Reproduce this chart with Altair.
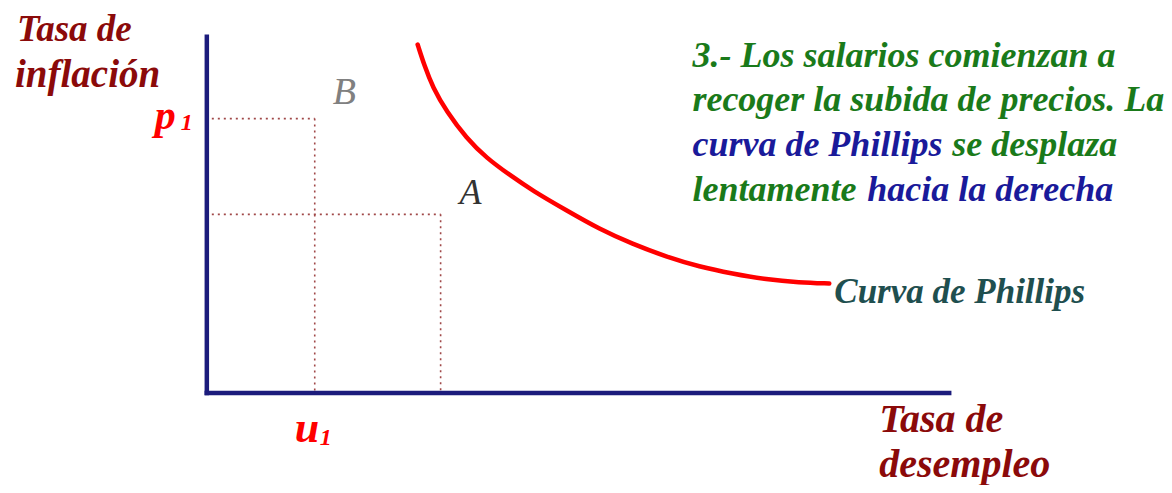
import altair as alt
import pandas as pd

# ---- data (units relative to the axis origin) ----
axis_x_end = 743
axis_y_end = 361

curve_u = [211, 218, 226, 240, 260, 280, 303, 326, 360, 393, 426, 460, 493, 526, 560, 593, 623]
curve_p = [353, 331, 310, 285, 258, 238, 221, 205, 185, 166, 151, 138, 128, 121, 115, 112, 111]

u1, p1 = 108, 278      # point B
uA, pA = 234, 181      # point A

# text items: label, x, y (baseline), colour, size
bold_texts = [
    ("Tasa de", -190, 357, "#8b0a0a", 37),
    ("inflación", -192, 310, "#8b0a0a", 39),
    ("p", -52, 267, "#ff0000", 42),
    ("1", -26, 266, "#ff0000", 24),
    ("u", 88, -50, "#ff0000", 44),
    ("1", 113, -53, "#ff0000", 24),
    ("Tasa de", 673, -39, "#8b0a0a", 40),
    ("desempleo", 673, -85, "#8b0a0a", 40),
    ("Curva de Phillips", 628, 91, "#1f4f4f", 35),
    ("3.- Los salarios comienzan a", 486, 330, "#1a7a1a", 36),
    ("recoger la subida de precios. La", 486, 286, "#1a7a1a", 36),
    ("curva de Phillips", 486, 240, "#1a1a9a", 36),
    ("se desplaza", 746, 240, "#1a7a1a", 36),
    ("lentamente", 486, 195, "#1a7a1a", 36),
    ("hacia la derecha", 661, 195, "#1a1a9a", 36),
]
plain_texts = [
    ("B", 126, 293, "#808080", 38),
    ("A", 253, 192, "#333333", 36),
]

X_DOM = [-199, 957]
Y_DOM = [-87, 390]
xs = alt.Scale(domain=X_DOM, nice=False, zero=False)
ys = alt.Scale(domain=Y_DOM, nice=False, zero=False)

def X(f="x"):
    return alt.X(f"{f}:Q", scale=xs, axis=None)

def Y(f="y"):
    return alt.Y(f"{f}:Q", scale=ys, axis=None)

# dotted guide lines
guides = pd.DataFrame({
    "x": [5, u1, 5, uA],
    "x2": [u1, u1, uA, uA],
    "y": [p1, p1, pA, pA],
    "y2": [p1, 0, pA, 0],
})
guide_layer = alt.Chart(guides).mark_rule(
    color="#a04848", strokeWidth=1.6, strokeDash=[2, 4]
).encode(x=X(), x2="x2:Q", y=Y(), y2="y2:Q")

# axes
axes = pd.DataFrame({"x": [0, 0], "x2": [0, axis_x_end], "y": [0, 0], "y2": [axis_y_end, 0]})
axis_layer = alt.Chart(axes).mark_rule(
    color="#1c1c7c", strokeWidth=4.5, strokeCap="square"
).encode(x=X(), x2="x2:Q", y=Y(), y2="y2:Q")

# Phillips curve
curve = pd.DataFrame({"x": curve_u, "y": curve_p, "i": list(range(len(curve_u)))})
curve_layer = alt.Chart(curve).mark_line(
    color="#ff0000", strokeWidth=4.5, interpolate="basis", strokeCap="round"
).encode(x=X(), y=Y(), order="i:Q")

def text_df(items):
    return pd.DataFrame(items, columns=["t", "x", "y", "c", "s"])

FONT = "Liberation Serif"

bold_layer = alt.Chart(text_df(bold_texts)).mark_text(
    font=FONT, fontStyle="italic", fontWeight="bold",
    align="left", baseline="alphabetic"
).encode(
    x=X(), y=Y(), text="t:N",
    color=alt.Color("c:N", scale=None),
    size=alt.Size("s:Q", scale=None),
)
plain_layer = alt.Chart(text_df(plain_texts)).mark_text(
    font=FONT, fontStyle="italic",
    align="left", baseline="alphabetic"
).encode(
    x=X(), y=Y(), text="t:N",
    color=alt.Color("c:N", scale=None),
    size=alt.Size("s:Q", scale=None),
)

chart = alt.layer(
    guide_layer, axis_layer, curve_layer, bold_layer, plain_layer
).properties(
    width=1156, height=477, padding=0,
    autosize=alt.AutoSizeParams(type="fit", contains="padding"),
    background="white",
).configure_view(stroke=None)

chart.save("out.html", embed_options={"renderer": "svg", "actions": False})
